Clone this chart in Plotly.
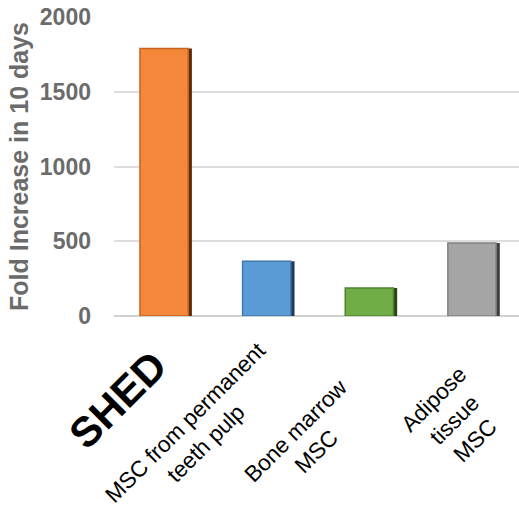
import plotly.graph_objects as go

categories = ["SHED", "MSC from permanent teeth pulp", "Bone marrow MSC", "Adipose tissue MSC"]
values = [1790, 367, 187, 488]
label_texts = ["<b>SHED</b>", "MSC from permanent<br>teeth pulp", "Bone marrow<br>MSC", "Adipose<br>tissue<br>MSC"]
y_ticks = [0, 500, 1000, 1500, 2000]

colors = ["#F5873A", "#5B9BD5", "#70AD47", "#A5A5A5"]
edge_colors = ["#C8641F", "#3F78AE", "#4F8530", "#808080"]
shadow_colors = ["#5A2D0C", "#1F3B57", "#2A4519", "#3E3E3E"]

xs = list(range(len(categories)))
fig = go.Figure()
fig.add_trace(go.Bar(
    x=xs, y=values, width=0.506, offset=-0.253,
    marker=dict(color=shadow_colors, line=dict(width=0)),
    hoverinfo="skip",
))
fig.add_trace(go.Bar(
    x=xs, y=values, width=0.47, offset=-0.253,
    marker=dict(color=colors, line=dict(color=edge_colors, width=1.5)),
    hoverinfo="skip",
))

label_fonts = [42, 22.5, 22.5, 22.5]
xshifts = [-48, -73, -65, -19]
yshifts = [-83, -117, -125, -104]
for i, t in enumerate(label_texts):
    fig.add_annotation(
        x=i, y=0, xref="x", yref="y", text=t, showarrow=False,
        textangle=-45, xanchor="center", yanchor="middle", align="center",
        xshift=xshifts[i], yshift=yshifts[i],
        font=dict(family="Liberation Sans, Arial", size=label_fonts[i], color="#000000"),
    )

fig.update_layout(
    width=519, height=509,
    margin=dict(l=114, r=0, t=17, b=193),
    paper_bgcolor="white", plot_bgcolor="white",
    showlegend=False, barmode="overlay",
    xaxis=dict(range=[-0.506, 3.44], showticklabels=False, showgrid=False,
               zeroline=False, showline=False, ticks=""),
    yaxis=dict(range=[0, 2000], tickvals=y_ticks, ticktext=[f"<b>{v}</b>" for v in y_ticks],
               tickfont=dict(family="Liberation Sans, Arial", size=23, color="#6B6B6B"),
               showgrid=True, gridcolor="#DCDCDC", gridwidth=1.5,
               zeroline=True, zerolinecolor="#D0D0D0", zerolinewidth=1.5,
               showline=False, ticks="", ticklabelstandoff=22,
               title=dict(text="<b>Fold Increase in 10 days</b>", standoff=4,
                          font=dict(family="Liberation Sans, Arial", size=25, color="#6B6B6B"))),
)

fig.write_html("out.html")
